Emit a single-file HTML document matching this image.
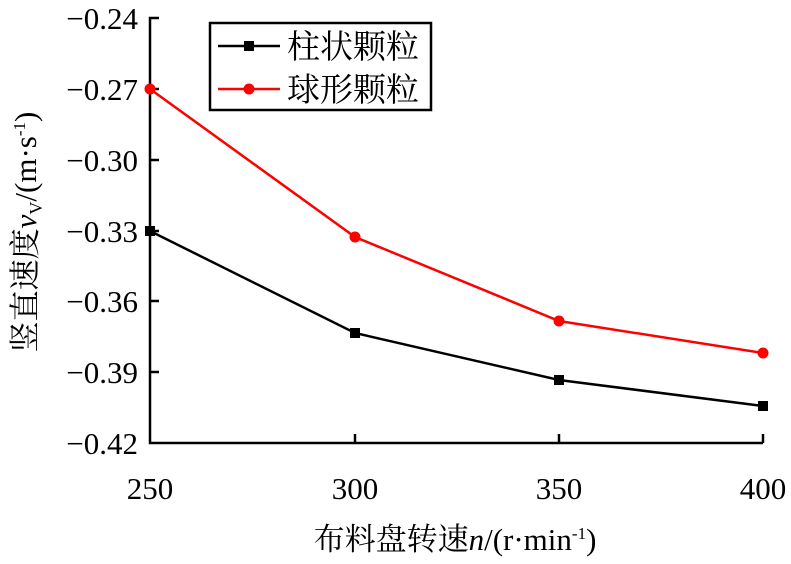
<!DOCTYPE html>
<html><head><meta charset="utf-8"><style>
body{margin:0;background:#fff;width:791px;height:559px;overflow:hidden}
text{font-family:"Liberation Serif","Noto Serif CJK SC",serif;fill:#000}
</style></head><body>
<svg width="791" height="559" viewBox="0 0 791 559">
<g stroke="#000" stroke-width="2.5" fill="none">
<polyline points="159,18 150,18 150,443 763,443"/>
<line x1="150" y1="89" x2="159" y2="89"/>
<line x1="150" y1="160" x2="159" y2="160"/>
<line x1="150" y1="231" x2="159" y2="231"/>
<line x1="150" y1="301" x2="159" y2="301"/>
<line x1="150" y1="372" x2="159" y2="372"/>
<line x1="355" y1="443" x2="355" y2="434"/>
<line x1="559" y1="443" x2="559" y2="434"/>
<line x1="763" y1="443" x2="763" y2="434"/>
</g>
<g font-size="31" text-anchor="end">
<text x="138" y="29">−0.24</text>
<text x="138" y="100">−0.27</text>
<text x="138" y="171">−0.30</text>
<text x="138" y="242">−0.33</text>
<text x="138" y="312">−0.36</text>
<text x="138" y="383">−0.39</text>
<text x="138" y="454">−0.42</text>
</g>
<g font-size="31" text-anchor="middle">
<text x="150" y="499">250</text>
<text x="355" y="499">300</text>
<text x="559" y="499">350</text>
<text x="763" y="499">400</text>
</g>
<text x="455" y="550" font-size="31" text-anchor="middle">布料盘转速<tspan font-style="italic">n</tspan>/(r·min<tspan font-size="17" dy="-11">-1</tspan><tspan dy="11">)</tspan></text>
<text transform="translate(36,232) rotate(-90)" font-size="31" text-anchor="middle">竖直速度<tspan font-style="italic">v</tspan><tspan font-size="18" dy="6">V</tspan><tspan dy="-6">/(m·s</tspan><tspan font-size="17" dy="-11">-1</tspan><tspan dy="11">)</tspan></text>
<polyline points="150,231 355,333 559,380 763,406" stroke="#000" stroke-width="2.5" fill="none"/>
<g fill="#000"><rect x="145" y="226" width="10" height="10"/><rect x="350" y="328" width="10" height="10"/><rect x="554" y="375" width="10" height="10"/><rect x="758" y="401" width="10" height="10"/></g>
<polyline points="150,89 355,237 559,321 763,353" stroke="#f00" stroke-width="2.5" fill="none"/>
<g fill="#f00"><circle cx="150" cy="89" r="5.5"/><circle cx="355" cy="237" r="5.5"/><circle cx="559" cy="321" r="5.5"/><circle cx="763" cy="353" r="5.5"/></g>
<rect x="210" y="23" width="221" height="87" fill="#fff" stroke="#000" stroke-width="2.5"/>
<line x1="218" y1="46" x2="280" y2="46" stroke="#000" stroke-width="2.5"/>
<rect x="244" y="41" width="10" height="10" fill="#000"/>
<line x1="218" y1="89" x2="280" y2="89" stroke="#f00" stroke-width="2.5"/>
<circle cx="249" cy="89" r="5.5" fill="#f00"/>
<text x="287" y="58" font-size="33">柱状颗粒</text>
<text x="287" y="101" font-size="33">球形颗粒</text>
</svg>
</body></html>
